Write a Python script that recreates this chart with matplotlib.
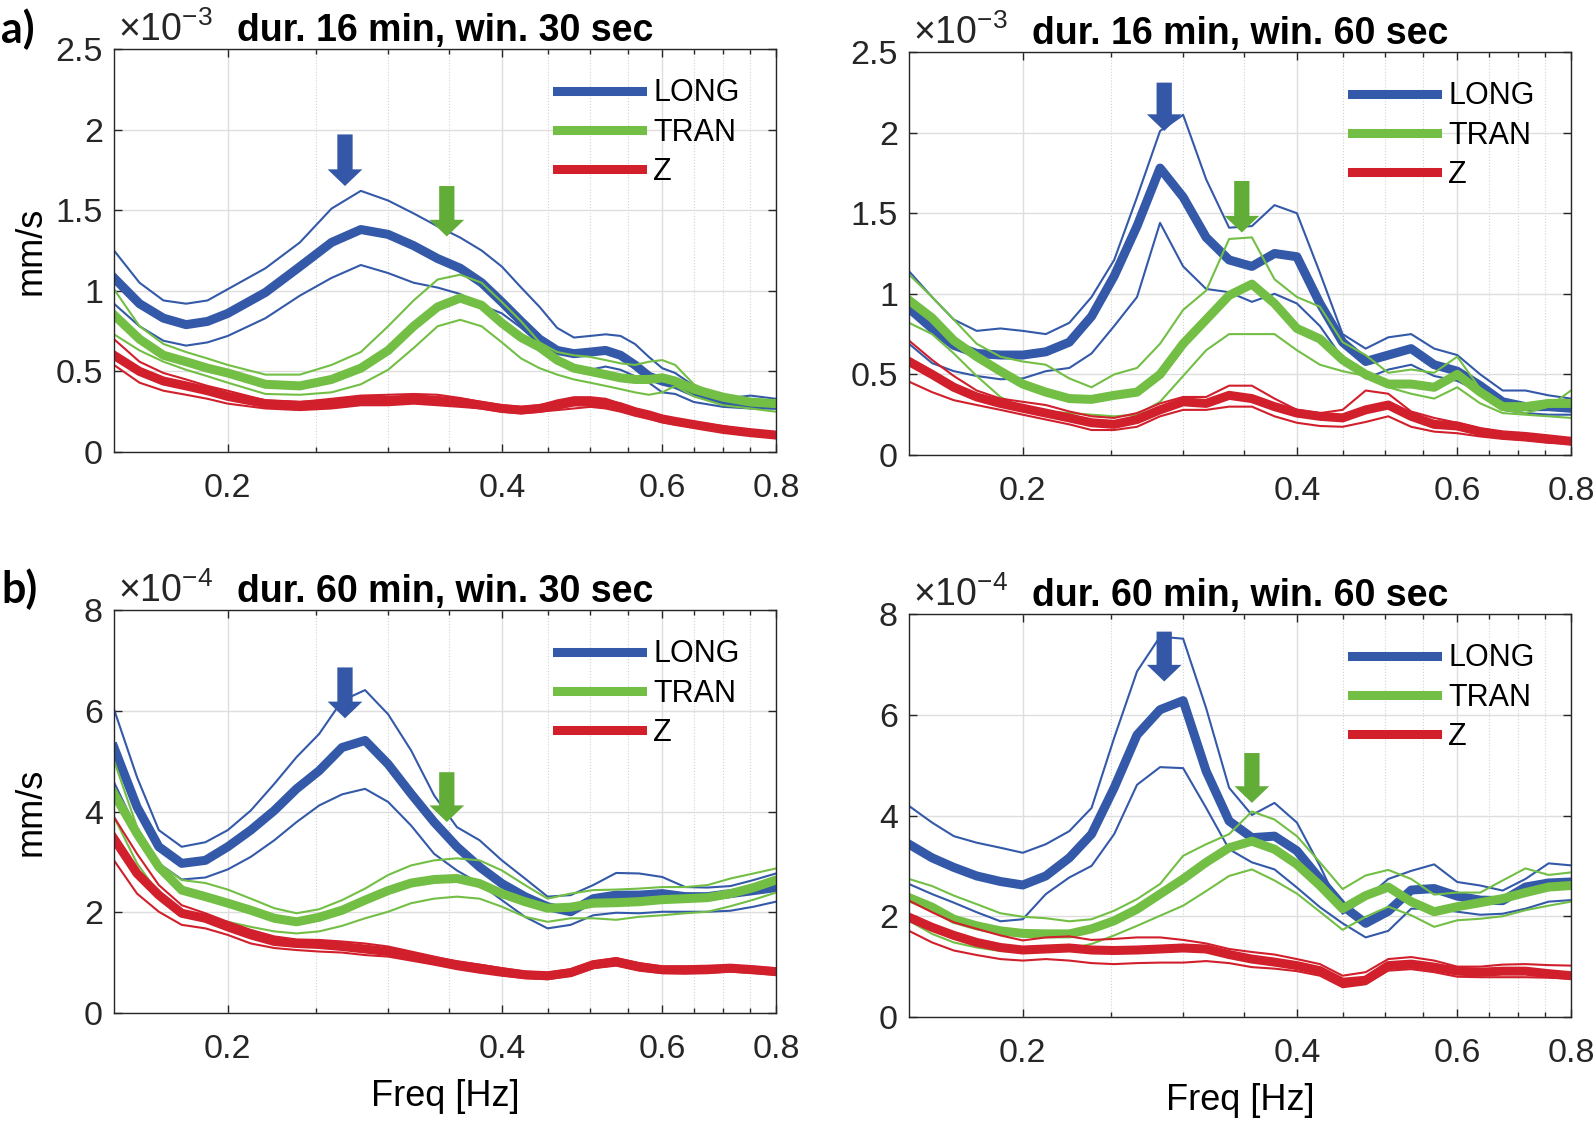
import numpy as np
import matplotlib
matplotlib.use("Agg")
import matplotlib.pyplot as plt
from matplotlib.ticker import FixedLocator, NullFormatter
from matplotlib.lines import Line2D
import matplotlib.transforms as mtrans

plt.rcParams['font.family'] = ['Liberation Sans', 'DejaVu Sans']
plt.rcParams['mathtext.fontset'] = 'custom'
plt.rcParams['mathtext.rm'] = 'Liberation Sans'
plt.rcParams['mathtext.default'] = 'regular'

## frequency samples [Hz]
freq_a = [0.15, 0.16, 0.17, 0.18, 0.19, 0.20, 0.22, 0.24, 0.26, 0.28, 0.30, 0.32, 0.34, 0.36, 0.38,
          0.40, 0.42, 0.44, 0.46, 0.48, 0.50, 0.52, 0.54, 0.56, 0.58, 0.60, 0.62, 0.65, 0.70, 0.75, 0.80]
freq = [0.150, 0.159, 0.168, 0.178, 0.189, 0.200, 0.212, 0.225, 0.238, 0.252, 0.267, 0.283, 0.300, 0.318, 0.337,
        0.357, 0.378, 0.400, 0.424, 0.449, 0.476, 0.504, 0.534, 0.566, 0.600, 0.636, 0.673, 0.713, 0.756, 0.800]

## a) dur. 16 min, win. 30 sec   (x1e-3 mm/s)
a_long = [1.08, 0.92, 0.83, 0.79, 0.81, 0.86, 0.99, 1.15, 1.30, 1.38, 1.35, 1.28, 1.20, 1.14, 1.05,
          0.93, 0.81, 0.70, 0.63, 0.61, 0.62, 0.63, 0.60, 0.54, 0.47, 0.44, 0.42, 0.37, 0.32, 0.30, 0.29]
a_long_hi = [1.25, 1.05, 0.94, 0.92, 0.94, 1.01, 1.14, 1.30, 1.51, 1.62, 1.56, 1.48, 1.40, 1.33, 1.25,
             1.15, 1.02, 0.90, 0.77, 0.71, 0.72, 0.73, 0.72, 0.67, 0.59, 0.52, 0.49, 0.41, 0.33, 0.35, 0.33]
a_long_lo = [0.92, 0.78, 0.69, 0.66, 0.68, 0.72, 0.83, 0.97, 1.08, 1.16, 1.11, 1.05, 1.02, 0.98, 0.91,
             0.86, 0.77, 0.67, 0.57, 0.51, 0.51, 0.53, 0.51, 0.47, 0.43, 0.37, 0.36, 0.31, 0.28, 0.27, 0.27]
a_tran = [0.85, 0.70, 0.60, 0.56, 0.52, 0.49, 0.42, 0.41, 0.45, 0.52, 0.63, 0.78, 0.90, 0.955, 0.91,
          0.80, 0.71, 0.65, 0.57, 0.52, 0.50, 0.48, 0.46, 0.45, 0.45, 0.46, 0.44, 0.39, 0.34, 0.31, 0.30]
a_tran_hi = [1.01, 0.78, 0.67, 0.62, 0.58, 0.54, 0.48, 0.48, 0.54, 0.62, 0.78, 0.94, 1.07, 1.10, 1.05,
             0.93, 0.81, 0.68, 0.62, 0.60, 0.59, 0.57, 0.55, 0.54, 0.56, 0.57, 0.54, 0.42, 0.34, 0.30, 0.28]
a_tran_lo = [0.73, 0.63, 0.56, 0.51, 0.47, 0.43, 0.36, 0.355, 0.37, 0.42, 0.51, 0.645, 0.78, 0.82, 0.78,
             0.68, 0.58, 0.52, 0.48, 0.45, 0.43, 0.41, 0.39, 0.37, 0.355, 0.37, 0.41, 0.345, 0.29, 0.27, 0.25]
a_z = [0.60, 0.50, 0.44, 0.41, 0.38, 0.345, 0.30, 0.29, 0.30, 0.32, 0.32, 0.33, 0.32, 0.31, 0.29,
       0.27, 0.26, 0.27, 0.29, 0.31, 0.31, 0.30, 0.28, 0.25, 0.23, 0.205, 0.19, 0.17, 0.14, 0.12, 0.105]
a_z_hi = [0.70, 0.56, 0.49, 0.45, 0.41, 0.38, 0.32, 0.31, 0.33, 0.35, 0.355, 0.36, 0.355, 0.335, 0.31,
          0.29, 0.28, 0.29, 0.32, 0.34, 0.34, 0.33, 0.30, 0.27, 0.245, 0.22, 0.205, 0.185, 0.16, 0.135, 0.12]
a_z_lo = [0.54, 0.43, 0.38, 0.355, 0.33, 0.30, 0.27, 0.26, 0.27, 0.29, 0.29, 0.30, 0.29, 0.28, 0.27,
          0.25, 0.24, 0.25, 0.26, 0.27, 0.28, 0.27, 0.25, 0.225, 0.205, 0.185, 0.17, 0.155, 0.13, 0.11, 0.09]

## dur. 16 min, win. 60 sec   (x1e-3 mm/s)
c_long = [0.91, 0.785, 0.68, 0.63, 0.62, 0.62, 0.64, 0.70, 0.86, 1.11, 1.42, 1.78, 1.60, 1.35, 1.21,
          1.17, 1.25, 1.23, 0.94, 0.70, 0.58, 0.62, 0.66, 0.56, 0.52, 0.43, 0.33, 0.30, 0.30, 0.29]
c_long_hi = [1.14, 0.98, 0.84, 0.77, 0.785, 0.77, 0.75, 0.82, 0.98, 1.21, 1.60, 2.01, 2.11, 1.71, 1.41,
             1.42, 1.55, 1.50, 1.13, 0.75, 0.66, 0.73, 0.75, 0.66, 0.62, 0.50, 0.40, 0.40, 0.37, 0.35]
c_long_lo = [0.69, 0.57, 0.52, 0.49, 0.47, 0.475, 0.52, 0.54, 0.63, 0.80, 0.98, 1.44, 1.17, 1.03, 1.01,
             0.95, 1.00, 0.94, 0.80, 0.60, 0.475, 0.53, 0.56, 0.49, 0.46, 0.39, 0.28, 0.26, 0.25, 0.25]
c_tran = [0.96, 0.85, 0.71, 0.61, 0.52, 0.44, 0.39, 0.35, 0.345, 0.37, 0.39, 0.50, 0.69, 0.84, 0.99,
          1.06, 0.94, 0.785, 0.72, 0.59, 0.50, 0.44, 0.44, 0.42, 0.50, 0.39, 0.30, 0.30, 0.32, 0.32]
c_tran_hi = [1.12, 0.98, 0.84, 0.69, 0.61, 0.58, 0.56, 0.475, 0.42, 0.50, 0.54, 0.69, 0.90, 1.02, 1.34,
             1.35, 1.09, 0.98, 0.92, 0.70, 0.62, 0.51, 0.53, 0.51, 0.61, 0.41, 0.28, 0.26, 0.30, 0.40]
c_tran_lo = [0.82, 0.75, 0.63, 0.49, 0.36, 0.29, 0.27, 0.26, 0.25, 0.24, 0.25, 0.33, 0.49, 0.65, 0.75,
             0.75, 0.75, 0.65, 0.56, 0.52, 0.49, 0.42, 0.38, 0.35, 0.42, 0.32, 0.26, 0.25, 0.24, 0.23]
c_z = [0.58, 0.50, 0.42, 0.36, 0.32, 0.29, 0.26, 0.23, 0.20, 0.19, 0.22, 0.28, 0.33, 0.32, 0.37,
       0.35, 0.30, 0.26, 0.24, 0.23, 0.28, 0.31, 0.24, 0.19, 0.18, 0.145, 0.125, 0.115, 0.10, 0.085]
c_z_hi = [0.71, 0.59, 0.49, 0.40, 0.35, 0.33, 0.31, 0.27, 0.24, 0.23, 0.26, 0.32, 0.36, 0.36, 0.43,
          0.43, 0.35, 0.28, 0.26, 0.28, 0.40, 0.38, 0.27, 0.23, 0.20, 0.165, 0.14, 0.125, 0.115, 0.095]
c_z_lo = [0.455, 0.39, 0.34, 0.31, 0.28, 0.25, 0.22, 0.19, 0.155, 0.155, 0.175, 0.24, 0.28, 0.28, 0.30,
          0.30, 0.24, 0.20, 0.18, 0.175, 0.205, 0.24, 0.175, 0.145, 0.135, 0.115, 0.10, 0.09, 0.075, 0.07]

## b) dur. 60 min, win. 30 sec   (x1e-4 mm/s)
b_long = [5.27, 4.09, 3.30, 2.97, 3.03, 3.30, 3.63, 4.02, 4.45, 4.81, 5.27, 5.41, 4.94, 4.35, 3.79,
          3.30, 2.90, 2.57, 2.31, 2.11, 2.01, 2.27, 2.34, 2.34, 2.37, 2.31, 2.31, 2.37, 2.43, 2.49]
b_long_hi = [6.03, 4.68, 3.63, 3.30, 3.39, 3.63, 4.02, 4.55, 5.08, 5.54, 6.20, 6.41, 5.93, 5.21, 4.32,
             3.69, 3.43, 3.03, 2.67, 2.31, 2.34, 2.54, 2.78, 2.77, 2.70, 2.50, 2.49, 2.52, 2.64, 2.77]
b_long_lo = [4.58, 3.63, 2.97, 2.65, 2.69, 2.85, 3.10, 3.43, 3.79, 4.12, 4.34, 4.45, 4.19, 3.72, 3.16,
             2.83, 2.57, 2.24, 1.91, 1.68, 1.75, 1.94, 1.99, 1.98, 2.01, 2.01, 2.01, 2.03, 2.11, 2.21]
b_tran = [4.35, 3.56, 2.90, 2.44, 2.31, 2.18, 2.04, 1.88, 1.81, 1.90, 2.04, 2.24, 2.43, 2.58, 2.65,
          2.67, 2.57, 2.37, 2.21, 2.08, 2.10, 2.18, 2.19, 2.21, 2.25, 2.27, 2.29, 2.37, 2.49, 2.64]
b_tran_hi = [5.01, 3.69, 2.97, 2.64, 2.58, 2.45, 2.27, 2.08, 1.98, 2.06, 2.24, 2.47, 2.74, 2.93, 3.03,
             3.07, 3.03, 2.83, 2.54, 2.27, 2.37, 2.44, 2.45, 2.47, 2.50, 2.50, 2.54, 2.67, 2.77, 2.87]
b_tran_lo = [3.89, 2.97, 2.37, 2.01, 1.92, 1.81, 1.71, 1.62, 1.58, 1.62, 1.73, 1.88, 2.01, 2.18, 2.27,
             2.31, 2.27, 2.11, 1.91, 1.81, 1.88, 1.88, 1.85, 1.91, 1.94, 1.98, 2.01, 2.12, 2.25, 2.39]
b_z = [3.46, 2.77, 2.34, 1.98, 1.88, 1.71, 1.55, 1.42, 1.38, 1.36, 1.32, 1.27, 1.22, 1.13, 1.04,
       0.96, 0.89, 0.82, 0.76, 0.74, 0.80, 0.96, 1.02, 0.92, 0.86, 0.86, 0.87, 0.89, 0.86, 0.82]
b_z_hi = [3.89, 3.16, 2.54, 2.14, 1.98, 1.81, 1.65, 1.52, 1.46, 1.45, 1.42, 1.38, 1.32, 1.22, 1.12,
          1.02, 0.96, 0.89, 0.82, 0.80, 0.87, 1.02, 1.09, 0.99, 0.92, 0.92, 0.92, 0.94, 0.91, 0.89]
b_z_lo = [3.03, 2.37, 2.01, 1.75, 1.68, 1.55, 1.38, 1.29, 1.25, 1.22, 1.20, 1.15, 1.12, 1.04, 0.96,
          0.87, 0.80, 0.74, 0.69, 0.67, 0.74, 0.89, 0.94, 0.84, 0.79, 0.78, 0.79, 0.82, 0.79, 0.76]

## dur. 60 min, win. 60 sec   (x1e-4 mm/s)
d_long = [3.43, 3.16, 2.97, 2.80, 2.69, 2.62, 2.80, 3.16, 3.63, 4.55, 5.60, 6.10, 6.28, 4.88, 3.89,
          3.56, 3.59, 3.30, 2.74, 2.21, 1.86, 2.10, 2.52, 2.55, 2.40, 2.32, 2.31, 2.58, 2.66, 2.68]
d_long_hi = [4.19, 3.86, 3.59, 3.46, 3.36, 3.26, 3.43, 3.69, 4.15, 5.54, 6.86, 7.55, 7.51, 6.13, 4.55,
             4.01, 4.25, 3.86, 3.00, 2.05, 2.35, 2.74, 2.90, 3.03, 2.68, 2.61, 2.51, 2.74, 3.05, 3.01]
d_long_lo = [2.64, 2.44, 2.27, 2.08, 1.90, 1.94, 2.44, 2.77, 3.00, 3.63, 4.61, 4.96, 4.94, 4.15, 3.33,
             3.07, 2.93, 2.57, 2.18, 1.86, 1.58, 1.71, 2.15, 2.15, 2.09, 2.03, 2.05, 2.15, 2.29, 2.32]
d_tran = [2.37, 2.18, 1.94, 1.81, 1.71, 1.66, 1.65, 1.65, 1.75, 1.91, 2.14, 2.44, 2.74, 3.07, 3.36,
          3.49, 3.33, 3.03, 2.61, 2.15, 2.41, 2.58, 2.29, 2.09, 2.19, 2.27, 2.35, 2.47, 2.58, 2.61]
d_tran_hi = [2.74, 2.60, 2.41, 2.24, 2.06, 1.99, 1.96, 1.90, 1.94, 2.11, 2.34, 2.64, 3.20, 3.43, 3.63,
             4.08, 3.92, 3.59, 3.07, 2.54, 2.81, 2.92, 2.74, 2.43, 2.47, 2.47, 2.71, 2.95, 2.82, 2.87]
d_tran_lo = [1.91, 1.65, 1.48, 1.38, 1.31, 1.29, 1.32, 1.35, 1.45, 1.62, 1.81, 2.01, 2.21, 2.50, 2.80,
             2.93, 2.71, 2.45, 2.09, 1.73, 1.99, 2.19, 2.02, 1.79, 1.92, 1.95, 2.00, 2.12, 2.21, 2.29]
d_z = [1.98, 1.78, 1.62, 1.48, 1.38, 1.33, 1.35, 1.37, 1.33, 1.32, 1.33, 1.35, 1.37, 1.35, 1.24,
       1.15, 1.09, 1.02, 0.92, 0.69, 0.73, 1.02, 1.05, 0.99, 0.91, 0.89, 0.91, 0.91, 0.86, 0.82]
d_z_hi = [2.31, 2.08, 1.88, 1.75, 1.62, 1.52, 1.58, 1.60, 1.53, 1.55, 1.58, 1.58, 1.53, 1.46, 1.35,
          1.29, 1.24, 1.15, 1.05, 0.82, 0.89, 1.15, 1.19, 1.12, 1.00, 1.00, 1.04, 1.05, 1.03, 1.02]
d_z_lo = [1.71, 1.48, 1.32, 1.23, 1.15, 1.12, 1.15, 1.12, 1.07, 1.05, 1.07, 1.08, 1.08, 1.11, 1.07,
          0.99, 0.96, 0.91, 0.82, 0.59, 0.65, 0.92, 0.95, 0.89, 0.80, 0.79, 0.79, 0.79, 0.78, 0.76]

## arrows marking the peaks (freq, top, tip) per panel
arrow_long = [(0.269, 1.97, 1.65), (0.286, 2.31, 2.01), (0.269, 6.86, 5.85), (0.286, 7.65, 6.66)]
arrow_tran = [(0.348, 1.65, 1.337), (0.348, 1.70, 1.38), (0.348, 4.78, 3.79), (0.357, 5.24, 4.25)]

titles = ['dur. 16 min, win. 30 sec', 'dur. 16 min, win. 60 sec',
          'dur. 60 min, win. 30 sec', 'dur. 60 min, win. 60 sec']
exps = [r'$\times10^{-3}$', r'$\times10^{-3}$', r'$\times10^{-4}$', r'$\times10^{-4}$']
ylims = [2.5, 2.5, 8, 8]
yticks = [[0, 0.5, 1, 1.5, 2, 2.5], [0, 0.5, 1, 1.5, 2, 2.5], [0, 2, 4, 6, 8], [0, 2, 4, 6, 8]]
ylabels = ['0', '0.5', '1', '1.5', '2', '2.5']

panels = [
    (freq_a, a_long, a_long_hi, a_long_lo, a_tran, a_tran_hi, a_tran_lo, a_z, a_z_hi, a_z_lo),
    (freq, c_long, c_long_hi, c_long_lo, c_tran, c_tran_hi, c_tran_lo, c_z, c_z_hi, c_z_lo),
    (freq, b_long, b_long_hi, b_long_lo, b_tran, b_tran_hi, b_tran_lo, b_z, b_z_hi, b_z_lo),
    (freq, d_long, d_long_hi, d_long_lo, d_tran, d_tran_hi, d_tran_lo, d_z, d_z_hi, d_z_lo),
]

blue = '#3359a8'
green = '#73bf45'
red = '#d11f2c'
blue_arrow = '#3457a7'
green_arrow = '#62ad38'
ink = '#262626'

W, H = 1594, 1122
fig = plt.figure(figsize=(W / 100, H / 100), dpi=100)

boxes = [(114, 452), (909, 455), (114, 1013), (909, 1017)]   # left, bottom in pixels
aw, ah = 662, 403

for i in range(4):
    x0, y0 = boxes[i]
    ax = fig.add_axes([x0 / W, 1 - y0 / H, aw / W, ah / H])
    f, lg, lg_hi, lg_lo, tr, tr_hi, tr_lo, z, z_hi, z_lo = panels[i]

    ax.plot(f, lg_hi, color=blue, lw=1.5)
    ax.plot(f, lg_lo, color=blue, lw=1.5)
    ax.plot(f, lg, color=blue, lw=6.5)
    ax.plot(f, tr_hi, color=green, lw=1.5)
    ax.plot(f, tr_lo, color=green, lw=1.5)
    ax.plot(f, tr, color=green, lw=6.5)
    ax.plot(f, z_hi, color=red, lw=1.5)
    ax.plot(f, z_lo, color=red, lw=1.5)
    ax.plot(f, z, color=red, lw=6.5)

    for (af, atop, atip), col in [(arrow_long[i], blue_arrow), (arrow_tran[i], green_arrow)]:
        ax.annotate('', xy=(af, atip), xytext=(af, atop),
                    arrowprops=dict(arrowstyle='simple,head_length=12,head_width=25,tail_width=11',
                                    mutation_scale=1, color=col, lw=0, shrinkA=0, shrinkB=0))

    ax.set_xscale('log')
    ax.set_xlim(0.15, 0.8)
    ax.set_ylim(0, ylims[i])
    ax.xaxis.set_major_locator(FixedLocator([0.2, 0.4, 0.6, 0.8]))
    ax.xaxis.set_minor_locator(FixedLocator([0.25, 0.3, 0.35, 0.45, 0.5, 0.55, 0.65, 0.7, 0.75]))
    ax.xaxis.set_minor_formatter(NullFormatter())
    ax.set_xticklabels(['0.2', '0.4', '0.6', '0.8'])
    ax.set_yticks(yticks[i])
    if ylims[i] < 3:
        ax.set_yticklabels(ylabels)
    else:
        ax.set_yticklabels([str(v) for v in yticks[i]])

    ax.grid(True, which='major', color='#dedede', lw=1.0)
    ax.grid(True, which='minor', axis='x', color='#d2d2d2', lw=0.8, ls=':')
    ax.set_axisbelow(True)
    ax.tick_params(which='both', direction='in', top=True, right=True, colors=ink, width=1.0)
    ax.tick_params(which='major', length=6, labelsize=24.5)
    ax.tick_params(which='minor', length=3.5)
    ax.tick_params(axis='x', pad=15)
    ax.tick_params(axis='y', pad=8)
    for s in ax.spines.values():
        s.set_color(ink)
        s.set_linewidth(1.0)

    ax.set_title(titles[i], fontsize=27, fontweight='bold', pad=6)
    tr_off = mtrans.offset_copy(ax.transAxes, fig=fig, x=3, y=6, units='points')
    ax.text(0, 1, exps[i], transform=tr_off, ha='left', va='baseline', fontsize=27, color=ink)

    if i % 2 == 0:
        ax.set_ylabel('mm/s', fontsize=26)
        ax.yaxis.set_label_coords(-0.099, 0.5)
    if i >= 2:
        ax.set_xlabel('Freq [Hz]', fontsize=26, va='top')
        ax.xaxis.set_label_coords(0.5, -0.163)

    handles = [Line2D([], [], color=blue, lw=6.5), Line2D([], [], color=green, lw=6.5),
               Line2D([], [], color=red, lw=6.5)]
    ax.legend(handles, ['LONG', 'TRAN', 'Z'], loc='upper left', bbox_to_anchor=(0.669, 0.927),
              frameon=False, fontsize=22, handlelength=2.8, handletextpad=0.35,
              labelspacing=0.3, borderpad=0, borderaxespad=0)

fig.text(1 / W, 1 - 43 / H, 'a)', fontsize=31, fontweight='bold', family=['Lato', 'DejaVu Sans'],
         va='baseline', ha='left')
fig.text(1 / W, 1 - 603 / H, 'b)', fontsize=31, fontweight='bold', family=['Lato', 'DejaVu Sans'],
         va='baseline', ha='left')

fig.savefig('out.png', dpi=100)
